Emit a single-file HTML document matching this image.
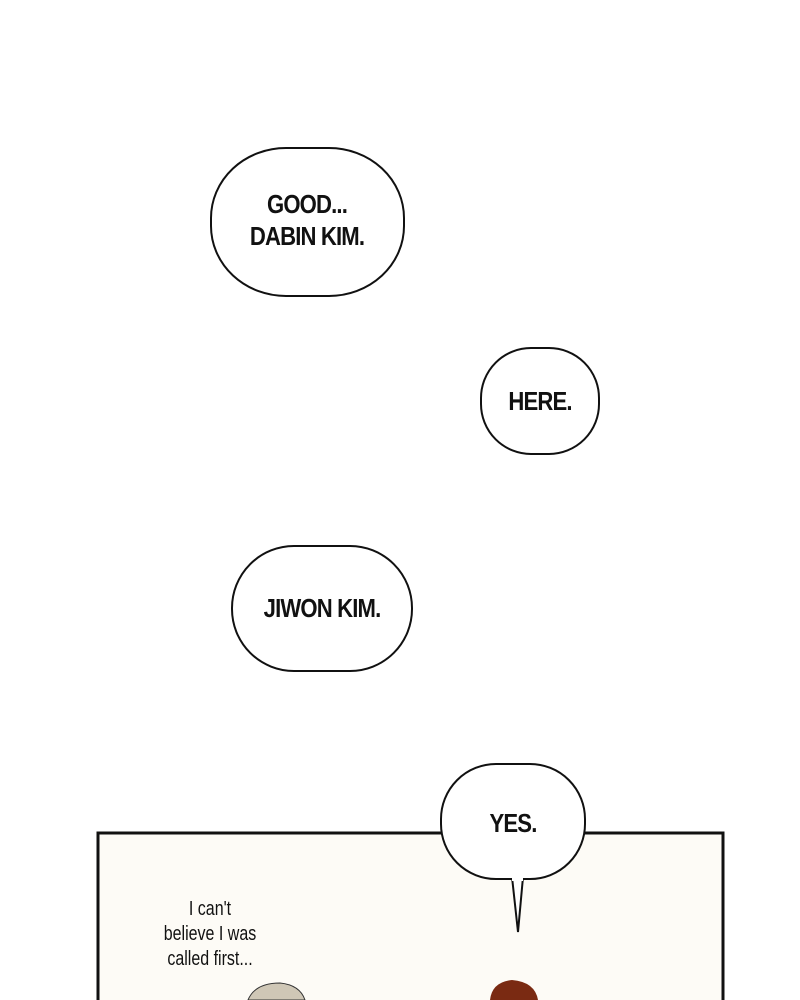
<!DOCTYPE html>
<html><head><style>
body{margin:0;width:800px;height:1000px;background:#fff;position:relative;overflow:hidden;font-family:"Liberation Sans",sans-serif}
.t{position:absolute;font-weight:bold;color:#111;text-align:center;letter-spacing:-1px;transform:scaleX(0.85)}
.s{position:absolute;color:#111;text-align:center;font-size:20px;line-height:25px;transform:scaleX(0.8)}
</style></head><body>
<svg width="800" height="1000" style="position:absolute;left:0;top:0">
<rect x="98" y="833" width="625" height="180" fill="#fdfbf6" stroke="#111" stroke-width="3"/>
<rect x="211" y="148" width="193" height="148" rx="75" ry="70" fill="#fff" stroke="#111" stroke-width="2"/>
<rect x="481" y="348" width="118" height="106" rx="50" fill="#fff" stroke="#111" stroke-width="2"/>
<rect x="232" y="546" width="180" height="125" rx="62" fill="#fff" stroke="#111" stroke-width="2"/>
<path d="M512 877 L518 932 L523 877" fill="#fff" stroke="#111" stroke-width="2"/>
<rect x="441" y="764" width="144" height="115" rx="55" fill="#fff" stroke="#111" stroke-width="2"/>
<rect x="512" y="875" width="11" height="6" fill="#fff"/>
<path d="M248 1000 Q255 983 280 983 Q300 985 305 1000Z" fill="#cfc7b6" stroke="#333"/>
<path d="M490 1000 Q492 982 512 980 Q535 982 538 1000Z" fill="#7a2a12"/>
</svg>
<div class="t" style="left:237px;top:188px;width:140px;font-size:26px;line-height:32px">GOOD...<br>DABIN KIM.</div>
<div class="t" style="left:480px;top:386px;width:120px;font-size:26px">HERE.</div>
<div class="t" style="left:232px;top:593px;width:180px;font-size:26px">JIWON KIM.</div>
<div class="t" style="left:453px;top:808px;width:120px;font-size:26px">YES.</div>
<div class="s" style="left:120px;top:897px;width:180px">I can't<br>believe I was<br>called first...</div>
</body></html>
